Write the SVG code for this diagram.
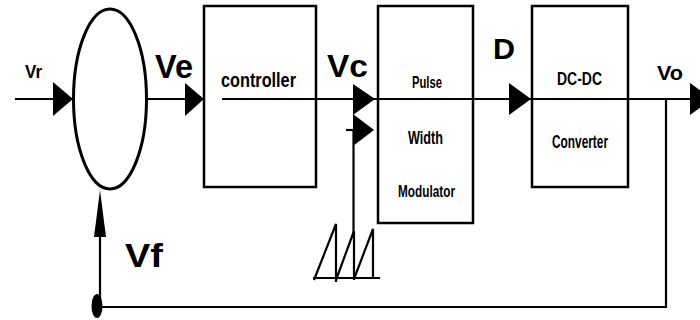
<svg xmlns="http://www.w3.org/2000/svg" width="700" height="320" viewBox="0 0 700 320">
<style>
.box{fill:#fff;stroke:#000;stroke-width:2.5}
.ln{fill:none;stroke:#000;stroke-width:2.2}
.ah{fill:#000;stroke:none}
.t{font-family:"Liberation Sans",Arial,sans-serif;font-weight:bold;fill:#000}
</style>
<rect width="700" height="320" fill="#fff"/>
<g id="summer">
<ellipse cx="110" cy="99" rx="36.5" ry="90" fill="#fff" stroke="#000" stroke-width="3"/>
</g>
<g id="controller">
<rect class="box" x="204" y="6" width="112" height="181"/>
<text class="t" x="221" y="87" font-size="20" textLength="75" lengthAdjust="spacingAndGlyphs">controller</text>
</g>
<g id="pwm">
<rect class="box" x="378" y="6" width="95" height="217"/>
<text class="t" x="412" y="88" font-size="16.5" textLength="30" lengthAdjust="spacingAndGlyphs">Pulse</text>
<text class="t" x="408" y="144" font-size="18" textLength="35" lengthAdjust="spacingAndGlyphs">Width</text>
<text class="t" x="398" y="197" font-size="17" textLength="57" lengthAdjust="spacingAndGlyphs">Modulator</text>
</g>
<g id="dcdc">
<rect class="box" x="532" y="6" width="96" height="181"/>
<text class="t" x="557" y="85" font-size="17.5" textLength="45" lengthAdjust="spacingAndGlyphs">DC-DC</text>
<text class="t" x="552" y="148" font-size="17.5" textLength="56" lengthAdjust="spacingAndGlyphs">Converter</text>
</g>
<g id="sawtooth">
<polyline class="ln" points="313,278 380,278"/>
<polyline class="ln" points="314,280 336,224 336,282"/>
<polyline class="ln" points="336,280 354,231 354,280"/>
<polyline class="ln" points="354,279 373,229 373,278"/>
</g>
<g id="connectors">
<line class="ln" x1="15" y1="99" x2="73" y2="99"/>
<polygon class="ah" points="53,82 73,99 53,116"/>
<line class="ln" x1="147" y1="99" x2="204" y2="99"/>
<polygon class="ah" points="185,83 204,99 185,116"/>
<line class="ln" x1="222" y1="99" x2="378" y2="99"/>
<polygon class="ah" points="353,84 375,99 353,115"/>
<line class="ln" x1="346" y1="130" x2="370" y2="130"/>
<polygon class="ah" points="353,114 374,130 353,146"/>
<line class="ln" x1="353.5" y1="130" x2="353.5" y2="233"/>
<line class="ln" x1="378" y1="99" x2="690" y2="99"/>
<polygon class="ah" points="509,83 531,99 509,115"/>
<polygon class="ah" points="690,83 712,99 690,115"/>
<polyline class="ln" points="666,99 666,307 99,307"/>
<line class="ln" x1="100" y1="307" x2="100" y2="232"/>
<polygon class="ah" points="100,190 106,237 94,237"/>
<ellipse class="ah" cx="97" cy="306" rx="5.5" ry="12"/>
</g>
<g id="labels">
<text class="t" x="25" y="78" font-size="18" textLength="17" lengthAdjust="spacingAndGlyphs">Vr</text>
<text class="t" x="155" y="78" font-size="33" textLength="38" lengthAdjust="spacingAndGlyphs">Ve</text>
<text class="t" x="327" y="77" font-size="31" textLength="41" lengthAdjust="spacingAndGlyphs">Vc</text>
<text class="t" x="493" y="59" font-size="30" textLength="22" lengthAdjust="spacingAndGlyphs">D</text>
<text class="t" x="657" y="80" font-size="21" textLength="26" lengthAdjust="spacingAndGlyphs">Vo</text>
<text class="t" x="125" y="267" font-size="34" textLength="38" lengthAdjust="spacingAndGlyphs">Vf</text>
</g>
</svg>
